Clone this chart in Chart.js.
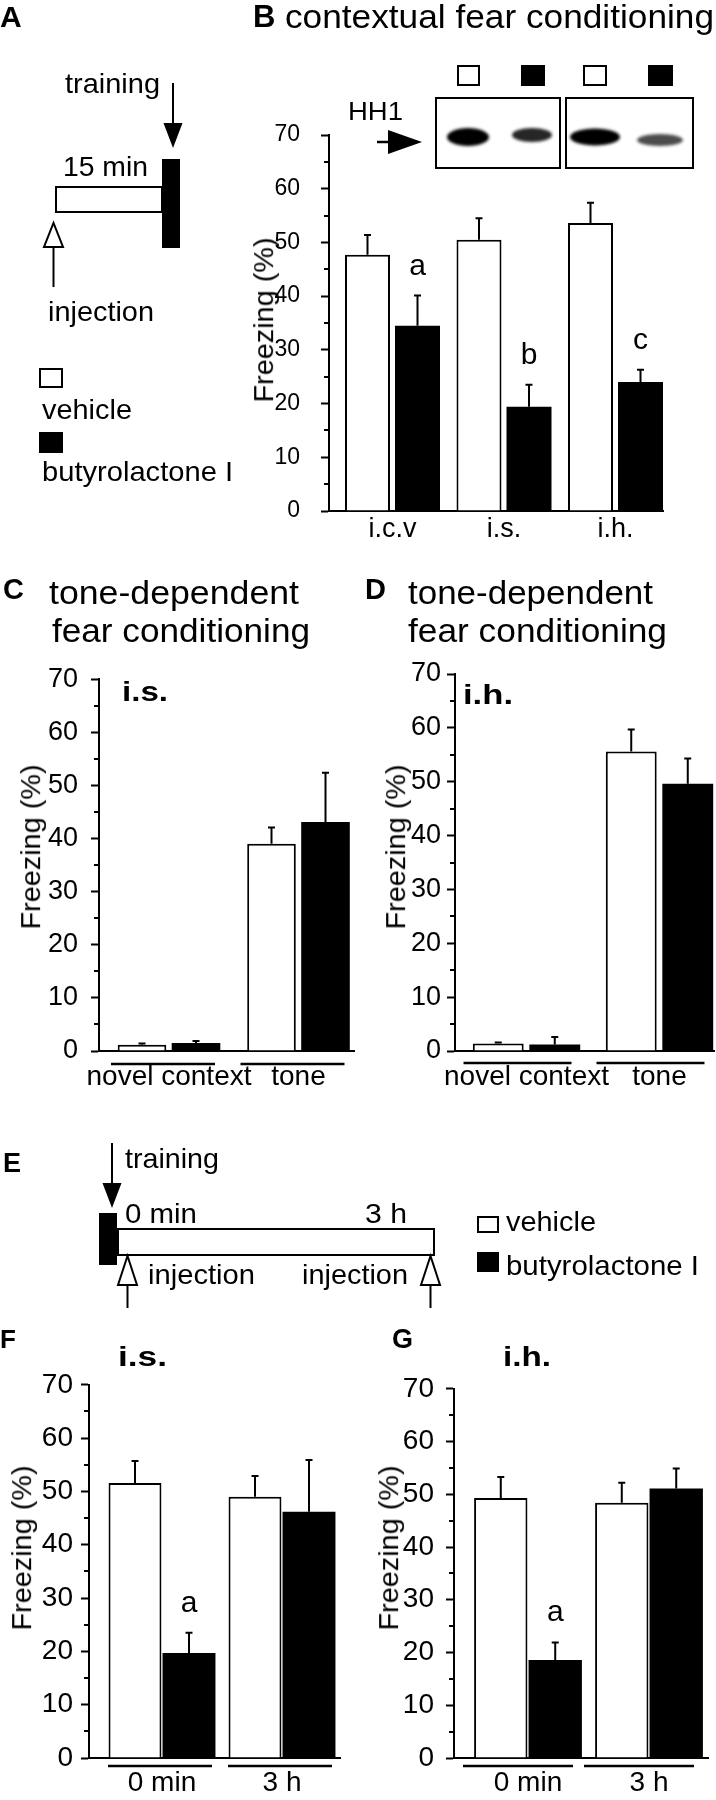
<!DOCTYPE html>
<html>
<head>
<meta charset="utf-8">
<title>Butyrolactone I and fear conditioning</title>
<script src="https://cdn.jsdelivr.net/npm/chart.js@4.4.1/dist/chart.umd.min.js"></script>
<style>
  html, body { margin: 0; padding: 0; background: #fff; }
  body { position: relative; width: 716px; height: 1800px; overflow: hidden; }
  canvas { position: absolute; }
  .t { position: absolute; white-space: nowrap; color: #000; transform-origin: 0 0; }
</style>
</head>
<body>
<canvas id="sketch" width="716" height="1800" style="left:0;top:0"></canvas>
<canvas id="chartB"></canvas>
<canvas id="chartC"></canvas>
<canvas id="chartD"></canvas>
<canvas id="chartF"></canvas>
<canvas id="chartG"></canvas>
<script>
var FONT = '"Liberation Sans", Arial, Helvetica, sans-serif';

// B: contextual fear conditioning, by injection site
var sitesB = ['i.c.v', 'i.s.', 'i.h.'];
var vehicleB = [47.7, 50.5, 53.6];
var vehicleErrB = [3.7, 4.0, 3.8];
var butyroB = [34.5, 19.4, 24.0];
var butyroErrB = [5.6, 4.1, 2.3];
var lettersB = ['a', 'b', 'c'];

// C, D: tone-dependent fear conditioning
var testsCD = ['novel context', 'tone'];
var vehicleC = [1.2, 39.0];
var vehicleErrC = [0.2, 3.1];
var butyroC = [1.5, 43.1];
var butyroErrC = [0.4, 9.3];

var vehicleD = [1.4, 55.6];
var vehicleErrD = [0.2, 4.1];
var butyroD = [1.2, 49.6];
var butyroErrD = [1.4, 4.7];

// F, G: injection 0 min or 3 h after training
var timesFG = ['0 min', '3 h'];
var vehicleF = [51.6, 49.0];
var vehicleErrF = [4.1, 3.9];
var butyroF = [19.7, 46.2];
var butyroErrF = [3.8, 9.7];
var lettersF = ['a', ''];

var vehicleG = [49.3, 48.4];
var vehicleErrG = [4.0, 3.8];
var butyroG = [18.6, 51.1];
var butyroErrG = [3.3, 3.8];
var lettersG = ['a', ''];

var yTicks = [0, 10, 20, 30, 40, 50, 60, 70];

// where each panel sits on the page (px)
var layoutB = { box: [260, 100, 716, 560], area: [329, 135, 663, 511], c0: 392.5, step: 111.5, cat: 0.897, bar: 0.9, tick: 23, yPad: 21, lab: 27, xPad: 5 };
var layoutC = { box: [30, 650, 360, 1110], area: [99, 674, 354, 1051], c0: 169, step: 129.5, cat: 0.834, bar: 0.9, tick: 27, yPad: 13, lab: 28, xPad: 12.5, under: { off: 13, half: 52, shift: -6 } };
var layoutD = { box: [385, 650, 716, 1110], area: [455, 674, 714, 1051], c0: 526.5, step: 133, cat: 0.85, bar: 0.9, tick: 27, yPad: 6, lab: 28, xPad: 12.5, under: { off: 12, half: 54, shift: -9 } };
var layoutF = { box: [20, 1360, 356, 1800], area: [89, 1381, 340, 1758], c0: 162, step: 120, cat: 0.9, bar: 0.98, tick: 28, yPad: 8, lab: 28, xPad: 11, under: { off: 8, half: 52, shift: -2 } };
var layoutG = { box: [385, 1360, 716, 1800], area: [454, 1381, 708, 1758], c0: 528, step: 121, cat: 0.9, bar: 0.98, tick: 28, yPad: 12, lab: 28, xPad: 11, under: { off: 8, half: 55, shift: -10 } };

function panel(id, L, labels, veh, vehErr, but, butErr, letters) {
  var cv = document.getElementById(id);
  cv.width = L.box[2] - L.box[0];
  cv.height = L.box[3] - L.box[1];
  cv.style.left = L.box[0] + 'px';
  cv.style.top = L.box[1] + 'px';

  function pts(vals) { return vals.map(function (v, i) { return { x: i, y: v }; }); }

  var extras = {
    id: 'extras',
    afterDatasetsDraw: function (chart) {
      var ctx = chart.ctx, ys = chart.scales.y;
      ctx.save();
      ctx.strokeStyle = '#000';
      ctx.fillStyle = '#000';
      ctx.lineWidth = 2;
      chart.data.datasets.forEach(function (ds, di) {
        chart.getDatasetMeta(di).data.forEach(function (bar, i) {
          var top = ys.getPixelForValue(ds.data[i].y + ds.err[i]);
          ctx.beginPath();
          ctx.moveTo(bar.x, bar.y);
          ctx.lineTo(bar.x, top);
          ctx.moveTo(bar.x - 3.5, top);
          ctx.lineTo(bar.x + 3.5, top);
          ctx.stroke();
          if (ds.letters && ds.letters[i]) {
            ctx.font = '30px ' + FONT;
            ctx.textAlign = 'center';
            ctx.textBaseline = 'alphabetic';
            ctx.fillText(ds.letters[i], bar.x, top - 21);
          }
        });
      });
      ctx.restore();
    },
    afterDraw: function (chart) {
      var ctx = chart.ctx, ys = chart.scales.y, xs = chart.scales.x, a = chart.chartArea;
      ctx.save();
      ctx.strokeStyle = '#000';
      ctx.lineWidth = 2;
      // half-step ticks on the y axis
      for (var v = yTicks[0] + 5; v < yTicks[yTicks.length - 1]; v += 10) {
        var py = Math.round(ys.getPixelForValue(v));
        ctx.beginPath();
        ctx.moveTo(a.left - 5, py);
        ctx.lineTo(a.left, py);
        ctx.stroke();
      }
      // bars under the group labels
      if (L.under) {
        ctx.lineWidth = 2.5;
        labels.forEach(function (_, i) {
          var cx = xs.getPixelForValue(i) + L.under.shift;
          var py = a.bottom + L.under.off;
          ctx.beginPath();
          ctx.moveTo(cx - L.under.half, py);
          ctx.lineTo(cx + L.under.half, py);
          ctx.stroke();
        });
      }
      ctx.restore();
    }
  };

  return new Chart(cv, {
    type: 'bar',
    data: {
      datasets: [
        { label: 'vehicle', data: pts(veh), err: vehErr, backgroundColor: '#fff', borderColor: '#000', borderWidth: 2,
          borderSkipped: 'bottom', categoryPercentage: L.cat, barPercentage: L.bar },
        { label: 'butyrolactone I', data: pts(but), err: butErr, letters: letters, backgroundColor: '#000', borderColor: '#000', borderWidth: 0,
          categoryPercentage: L.cat, barPercentage: L.bar }
      ]
    },
    options: {
      responsive: false,
      animation: false,
      devicePixelRatio: 1,
      layout: { padding: { left: 0, top: L.area[1] - L.box[1], right: L.box[2] - L.area[2], bottom: 0 } },
      plugins: { legend: { display: false }, tooltip: { enabled: false } },
      scales: {
        x: {
          type: 'linear',
          offset: false,
          min: (L.area[0] - L.c0) / L.step,
          max: (L.area[2] - L.c0) / L.step,
          afterBuildTicks: function (s) { s.ticks = labels.map(function (_, i) { return { value: i }; }); },
          afterFit: function (s) { s.height = L.box[3] - L.area[3]; },
          ticks: {
            autoSkip: false, maxRotation: 0, padding: L.xPad, color: '#000',
            font: { family: FONT, size: L.lab, lineHeight: 1 },
            callback: function (v) { return labels[v]; }
          },
          grid: { display: false, drawTicks: false, offset: false },
          border: { display: true, color: '#000', width: 2 }
        },
        y: {
          min: yTicks[0],
          max: yTicks[yTicks.length - 1],
          afterFit: function (s) { s.width = L.area[0] - L.box[0]; },
          ticks: { stepSize: yTicks[1] - yTicks[0], padding: L.yPad, color: '#000', font: { family: FONT, size: L.tick } },
          grid: { drawOnChartArea: false, drawTicks: true, tickLength: 8, tickWidth: 2, tickColor: '#000' },
          border: { display: true, color: '#000', width: 2 }
        }
      }
    },
    plugins: [extras]
  });
}

panel('chartB', layoutB, sitesB, vehicleB, vehicleErrB, butyroB, butyroErrB, lettersB);
panel('chartC', layoutC, testsCD, vehicleC, vehicleErrC, butyroC, butyroErrC, null);
panel('chartD', layoutD, testsCD, vehicleD, vehicleErrD, butyroD, butyroErrD, null);
panel('chartF', layoutF, timesFG, vehicleF, vehicleErrF, butyroF, butyroErrF, lettersF);
panel('chartG', layoutG, timesFG, vehicleG, vehicleErrG, butyroG, butyroErrG, lettersG);

// ---- text ----
var measure = document.createElement('canvas').getContext('2d');

function txt(str, x, base, size, width, bold) {
  var d = document.createElement('div');
  var font = (bold ? 'bold ' : '') + size + 'px ' + FONT;
  d.className = 't';
  d.textContent = str;
  d.style.font = font;
  d.style.lineHeight = '1';
  d.style.left = x + 'px';
  d.style.top = (base - 0.8465 * size) + 'px';
  if (width) {
    measure.font = font;
    d.style.transform = 'scaleX(' + (width / measure.measureText(str).width) + ')';
  }
  document.body.appendChild(d);
}

function yTitle(baseX, cy, size, length) {
  var str = 'Freezing (%)';
  var d = document.createElement('div');
  var font = size + 'px ' + FONT;
  measure.font = font;
  var w = measure.measureText(str).width;
  d.className = 't';
  d.textContent = str;
  d.style.font = font;
  d.style.lineHeight = '1';
  d.style.width = w + 'px';
  d.style.height = size + 'px';
  d.style.left = (baseX - 0.3465 * size - w / 2) + 'px';
  d.style.top = (cy - size / 2) + 'px';
  d.style.transformOrigin = '50% 50%';
  d.style.transform = 'rotate(-90deg) scaleX(' + (length / w) + ')';
  document.body.appendChild(d);
}

txt('A', 0, 27, 30, 0, true);
txt('B', 253, 27, 31, 0, true);
txt('contextual fear conditioning', 285, 28, 33, 429);
txt('training', 65, 94, 28, 95);
txt('15 min', 63, 177, 28, 85);
txt('injection', 48, 322, 28, 106);
txt('vehicle', 42, 420, 28, 90);
txt('butyrolactone I', 42, 482, 28, 191);
txt('HH1', 348, 120, 25, 55);

txt('C', 3, 600, 29, 0, true);
txt('tone-dependent', 49, 604, 34, 250);
txt('fear conditioning', 52, 642, 34, 258);
txt('D', 365, 600, 29, 0, true);
txt('tone-dependent', 408, 604, 34, 245);
txt('fear conditioning', 408, 642, 34, 259);
txt('i.s.', 122, 702, 28, 46, true);
txt('i.h.', 463, 705, 28, 50, true);

txt('E', 3, 1173, 27, 0, true);
txt('training', 125, 1169, 28, 94);
txt('0 min', 125, 1224, 28, 72);
txt('3 h', 365, 1224, 28, 42);
txt('injection', 148, 1285, 28, 107);
txt('injection', 302, 1285, 28, 106);
txt('vehicle', 506, 1232, 28, 90);
txt('butyrolactone I', 506, 1276, 28, 193);

txt('F', 0, 1348, 26, 0, true);
txt('i.s.', 118, 1367, 28, 49, true);
txt('G', 392, 1349, 27, 0, true);
txt('i.h.', 503, 1367, 28, 48, true);

yTitle(274, 320, 28, 165);
yTitle(41, 847, 28, 165);
yTitle(406, 847, 28, 165);
yTitle(32, 1548, 28, 165);
yTitle(399, 1548, 28, 165);

// ---- protocol sketches and HH1 blot ----
var g = document.getElementById('sketch').getContext('2d');
g.strokeStyle = '#000';
g.fillStyle = '#000';
g.lineWidth = 2;

function seg(x1, y1, x2, y2, w) {
  g.lineWidth = w || 2;
  g.beginPath(); g.moveTo(x1, y1); g.lineTo(x2, y2); g.stroke();
  g.lineWidth = 2;
}
function downArrow(x, y0, tip) {
  seg(x, y0, x, tip - 22);
  g.beginPath(); g.moveTo(x - 9.5, tip - 25); g.lineTo(x + 9.5, tip - 25); g.lineTo(x, tip); g.closePath(); g.fill();
}
function openUpArrow(x, tip, base, tail) {
  g.fillStyle = '#fff';
  g.beginPath(); g.moveTo(x - 9.5, base); g.lineTo(x + 9.5, base); g.lineTo(x, tip); g.closePath(); g.fill(); g.stroke();
  g.fillStyle = '#000';
  seg(x, base, x, tail);
}

// A
downArrow(173, 83, 148);
g.strokeRect(56, 187, 106, 25);
g.fillRect(162, 159, 18, 89);
openUpArrow(53.5, 223, 247, 287);
g.strokeRect(40, 369, 22, 18);
g.fillRect(39, 432, 24, 21);

// B blot
g.strokeRect(458, 66, 21, 19);
g.fillRect(521, 65, 24, 21);
g.strokeRect(584, 66, 22, 19);
g.fillRect(648, 65, 25, 21);
g.strokeRect(436, 98, 124, 70);
g.strokeRect(566, 98, 127, 70);
g.save();
g.filter = 'blur(1.5px)';
[[468, 137, 21, 9, 1], [532, 135, 20, 7, 0.85], [595, 137, 25, 8.5, 1], [660, 140, 23, 6, 0.7]].forEach(function (b) {
  g.globalAlpha = b[4];
  g.beginPath(); g.ellipse(b[0], b[1], b[2], b[3], 0, 0, Math.PI * 2); g.fill();
});
g.restore();
seg(377, 142, 392, 142, 2.5);
g.beginPath(); g.moveTo(388, 130); g.lineTo(388, 154); g.lineTo(422, 142); g.closePath(); g.fill();

// E
downArrow(112, 1143, 1208);
g.fillRect(99, 1213, 18, 52);
g.strokeRect(118, 1229, 316, 26);
openUpArrow(127.5, 1256, 1285, 1308);
openUpArrow(430.5, 1256, 1285, 1308);
g.strokeRect(478, 1217, 20, 15);
g.fillRect(477, 1252, 22, 20);
</script>
</body>
</html>
